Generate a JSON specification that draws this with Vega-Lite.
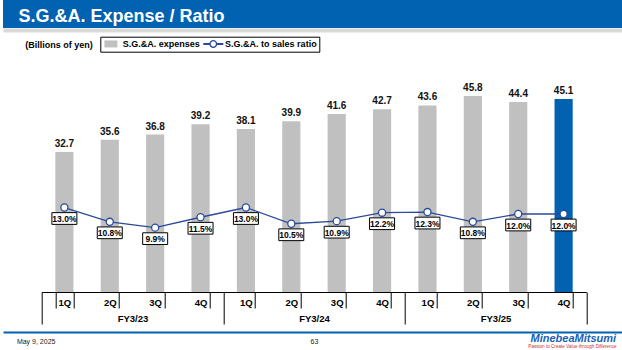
{
  "$schema": "https://vega.github.io/schema/vega-lite/v6.json",
  "background": "white",
  "padding": 0,
  "spacing": 0,
  "bounds": "flush",
  "center": true,
  "config": {
    "font": "Liberation Sans",
    "view": {"stroke": null}
  },
  "vconcat": [
    {
      "width": 622,
      "height": 28,
      "view": {"fill": "#0062b0", "stroke": null},
      "data": {"values": [{"t": "S.G.&A. Expense / Ratio", "u": "(Billions of yen)", "v": 0.5}]},
      "encoding": {"y": {"field": "v", "type": "quantitative", "scale": {"domain": [0, 1]}, "axis": null}},
      "layer": [
        {
          "mark": {"type": "point", "opacity": 0},
          "encoding": {
            "x": {"field": "t", "type": "nominal", "scale": {"type": "point", "padding": 0, "align": 0},
              "axis": {"orient": "top", "title": null, "domain": false, "ticks": false, "tickSize": 0, "labelAngle": 0,
                "labelAlign": "left", "labelBaseline": "alphabetic", "labelPadding": -21, "labelOffset": 15, "labelLimit": 1000,
                "labelFontSize": 18, "labelFontWeight": "bold", "labelColor": "white", "labelOverlap": false, "labelBound": false, "labelFlush": false}}
          }
        },
        {
          "mark": {"type": "point", "opacity": 0},
          "encoding": {
            "x": {"field": "u", "type": "nominal", "scale": {"type": "point", "padding": 0, "align": 0},
              "axis": {"orient": "bottom", "title": null, "offset": 2, "domain": true, "domainColor": "#d9d9d9", "domainWidth": 4, "ticks": false, "tickSize": 0, "labelAngle": 0,
                "labelAlign": "left", "labelBaseline": "alphabetic", "labelPadding": 17.7, "labelOffset": 21.7, "labelLimit": 1000,
                "labelFontSize": 9, "labelFontWeight": "bold", "labelColor": "black", "labelOverlap": false, "labelBound": false, "labelFlush": false}}
          }
        }
      ],
      "resolve": {"scale": {"x": "independent"}, "axis": {"x": "independent"}}
    },
    {
      "width": 544.6,
      "height": 264,
      "view": {"stroke": null},
      "data": {"values": [
        {"period": "FY3/23 1Q", "fy": "FY3/23", "sga": 32.7, "ratio": 0.130},
        {"period": "FY3/23 2Q", "fy": "FY3/23", "sga": 35.6, "ratio": 0.108},
        {"period": "FY3/23 3Q", "fy": "FY3/23", "sga": 36.8, "ratio": 0.099},
        {"period": "FY3/23 4Q", "fy": "FY3/23", "sga": 39.2, "ratio": 0.115},
        {"period": "FY3/24 1Q", "fy": "FY3/24", "sga": 38.1, "ratio": 0.130},
        {"period": "FY3/24 2Q", "fy": "FY3/24", "sga": 39.9, "ratio": 0.105},
        {"period": "FY3/24 3Q", "fy": "FY3/24", "sga": 41.6, "ratio": 0.109},
        {"period": "FY3/24 4Q", "fy": "FY3/24", "sga": 42.7, "ratio": 0.122},
        {"period": "FY3/25 1Q", "fy": "FY3/25", "sga": 43.6, "ratio": 0.123},
        {"period": "FY3/25 2Q", "fy": "FY3/25", "sga": 45.8, "ratio": 0.108},
        {"period": "FY3/25 3Q", "fy": "FY3/25", "sga": 44.4, "ratio": 0.120},
        {"period": "FY3/25 4Q", "fy": "FY3/25", "sga": 45.1, "ratio": 0.120}
      ]},
      "layer": [
        {
          "encoding": {
            "x": {"field": "period", "type": "nominal", "sort": null,
              "scale": {"type": "band", "paddingInner": 0.6, "paddingOuter": 0.3},
              "axis": {"title": null, "labelExpr": "slice(datum.label, 7)", "tickBand": "extent", "tickSize": 16, "tickColor": "black", "tickWidth": 1, "domainColor": "black", "domainWidth": 1, "labelAngle": 0, "labelBaseline": "middle", "labelPadding": -6, "labelFontSize": 9.5, "labelFontWeight": "bold", "labelColor": "black"}}
          },
          "layer": [
            {
              "encoding": {"y": {"field": "sga", "type": "quantitative", "scale": {"domain": [0, 61.7]}, "axis": null}},
              "layer": [
                {
                  "mark": {"type": "bar"},
                  "encoding": {
                    "color": {
                      "datum": "S.G.&A. expenses", "type": "nominal",
                      "condition": {"test": "datum.period === 'FY3/25 4Q'", "value": "#0062b0"},
                      "scale": {"domain": ["S.G.&A. expenses", "S.G.&A. to sales ratio"], "range": ["#c0c0c0", "#2a4b9b"]},
                      "legend": {
                        "orient": "none", "legendX": 97.3, "legendY": 36.7, "direction": "horizontal", "title": null,
                        "strokeColor": "black", "padding": 2.5,
                        "labelFontSize": 9, "labelFontWeight": "bold", "labelColor": "black",
                        "labelOffset": 10.9, "columnPadding": 3.4,
                        "symbolSize": 64, "symbolStrokeWidth": 0,
                        "labelExpr": "datum.label === 'S.G.&A. to sales ratio' ? datum.label + '\u00a0\u00a0' : datum.label",
                        "encode": {
                          "symbols": {"update": {
                            "shape": {"signal": "datum.value === 'S.G.&A. expenses' ? 'M-0.725,-0.875H2.525V0.875H-0.725Z' : 'M-1.6,-0.25H0V0.25H-1.6ZM1.8,-0.25H3.4V0.25H1.8ZM-0.1,0A1,1,0,1,1,1.9,0A1,1,0,1,1,-0.1,0ZM0.25,0A0.65,0.65,0,1,0,1.55,0A0.65,0.65,0,1,0,0.25,0Z'"},
                            "fill": {"signal": "datum.value === 'S.G.&A. expenses' ? '#c0c0c0' : '#2a4b9b'"},
                            "stroke": {"value": "transparent"},
                            "strokeWidth": {"value": 0},
                            "opacity": {"value": 1}
                          }}
                        }
                      }
                    }
                  }
                },
                {
                  "mark": {"type": "text", "baseline": "alphabetic", "dy": -5, "fontSize": 10, "fontWeight": "bold", "color": "#111111"},
                  "encoding": {"text": {"field": "sga", "type": "quantitative", "format": ".1f"}}
                }
              ]
            },
            {
              "encoding": {"y": {"field": "ratio", "type": "quantitative", "scale": {"domain": [0, 0.4062]}, "axis": null}},
              "layer": [
                {
                  "mark": {"type": "line", "strokeWidth": 1.3},
                  "encoding": {"color": {"datum": "S.G.&A. to sales ratio", "type": "nominal"}}
                },
                {
                  "mark": {"type": "point", "shape": "M-1,-0.47H1V0.47H-1Z", "size": 625, "filled": true, "fill": "white", "stroke": "black", "strokeWidth": 1, "opacity": 1, "yOffset": 11}
                },
                {
                  "mark": {"type": "point", "shape": "circle", "size": 50, "filled": true, "fill": "white", "stroke": "#2a4b9b", "strokeWidth": 1.3, "opacity": 1}
                },
                {
                  "mark": {"type": "text", "baseline": "middle", "yOffset": 11.5, "fontSize": 8.5, "fontWeight": "bold", "color": "black"},
                  "encoding": {"text": {"field": "ratio", "type": "quantitative", "format": ".1%"}}
                }
              ]
            }
          ],
          "resolve": {"scale": {"y": "independent"}}
        },
        {
          "mark": {"type": "point", "opacity": 0},
          "encoding": {
            "x": {"field": "fy", "type": "nominal", "sort": null,
              "scale": {"type": "band", "paddingInner": 0, "paddingOuter": 0},
              "axis": {"orient": "bottom", "title": null, "tickBand": "extent", "tickSize": 32, "tickColor": "black", "tickWidth": 1, "domain": false, "labelAngle": 0, "labelBaseline": "middle", "labelPadding": -6, "labelFontSize": 9.5, "labelFontWeight": "bold", "labelColor": "black"}}
          }
        }
      ],
      "resolve": {"scale": {"x": "independent"}, "axis": {"x": "independent"}}
    },
    {
      "width": 622,
      "height": 40,
      "view": {"stroke": null},
      "data": {"values": [
        {"f": "May 9, 2025", "g": "Passion to Create Value through Difference", "v": 0.5},
        {"f": "63", "g": "Passion to Create Value through Difference", "v": 0.5},
        {"f": "MinebeaMitsumi", "g": "Passion to Create Value through Difference", "v": 0.5}
      ]},
      "encoding": {"y": {"field": "v", "type": "quantitative", "scale": {"domain": [0, 1]}, "axis": null}},
      "layer": [
        {
          "mark": {"type": "point", "opacity": 0},
          "encoding": {
            "x": {"field": "f", "type": "nominal", "sort": null,
              "scale": {"type": "point", "padding": 0.045},
              "axis": {"orient": "bottom", "title": null, "ticks": false, "tickSize": 0, "domainColor": "#0062b0", "domainWidth": 2,
                "labelAngle": 0, "labelBaseline": "middle", "labelOverlap": false, "labelBound": false, "labelFlush": false,
                "labelPadding": {"condition": {"test": "datum.value === 'MinebeaMitsumi'", "value": 6.5}, "value": 9},
                "labelAlign": {"condition": [{"test": "datum.value === 'May 9, 2025'", "value": "left"}, {"test": "datum.value === 'MinebeaMitsumi'", "value": "right"}], "value": "center"},
                "labelOffset": {"condition": {"test": "datum.value === 'MinebeaMitsumi'", "value": 4}, "value": 0},
                "labelFontSize": {"condition": {"test": "datum.value === 'MinebeaMitsumi'", "value": 11}, "value": 7},
                "labelFontStyle": {"condition": {"test": "datum.value === 'MinebeaMitsumi'", "value": "italic"}, "value": "normal"},
                "labelFontWeight": {"condition": {"test": "datum.value === 'MinebeaMitsumi'", "value": "bold"}, "value": "normal"},
                "labelColor": {"condition": {"test": "datum.value === 'MinebeaMitsumi'", "value": "#1a5fb4"}, "value": "#222222"}
              }}
          }
        },
        {
          "mark": {"type": "point", "opacity": 0},
          "encoding": {
            "x": {"field": "g", "type": "nominal", "scale": {"type": "point", "padding": 0, "align": 1},
              "axis": {"orient": "bottom", "title": null, "domain": false, "ticks": false, "tickSize": 0, "labelAngle": 0,
                "labelAlign": "right", "labelBaseline": "middle", "labelPadding": 14.5, "labelOffset": -9, "labelLimit": 1000,
                "labelFontSize": 4.6, "labelColor": "#c8323c", "labelOverlap": false, "labelBound": false, "labelFlush": false}}
          }
        }
      ],
      "resolve": {"scale": {"x": "independent"}, "axis": {"x": "independent"}}
    }
  ]
}
